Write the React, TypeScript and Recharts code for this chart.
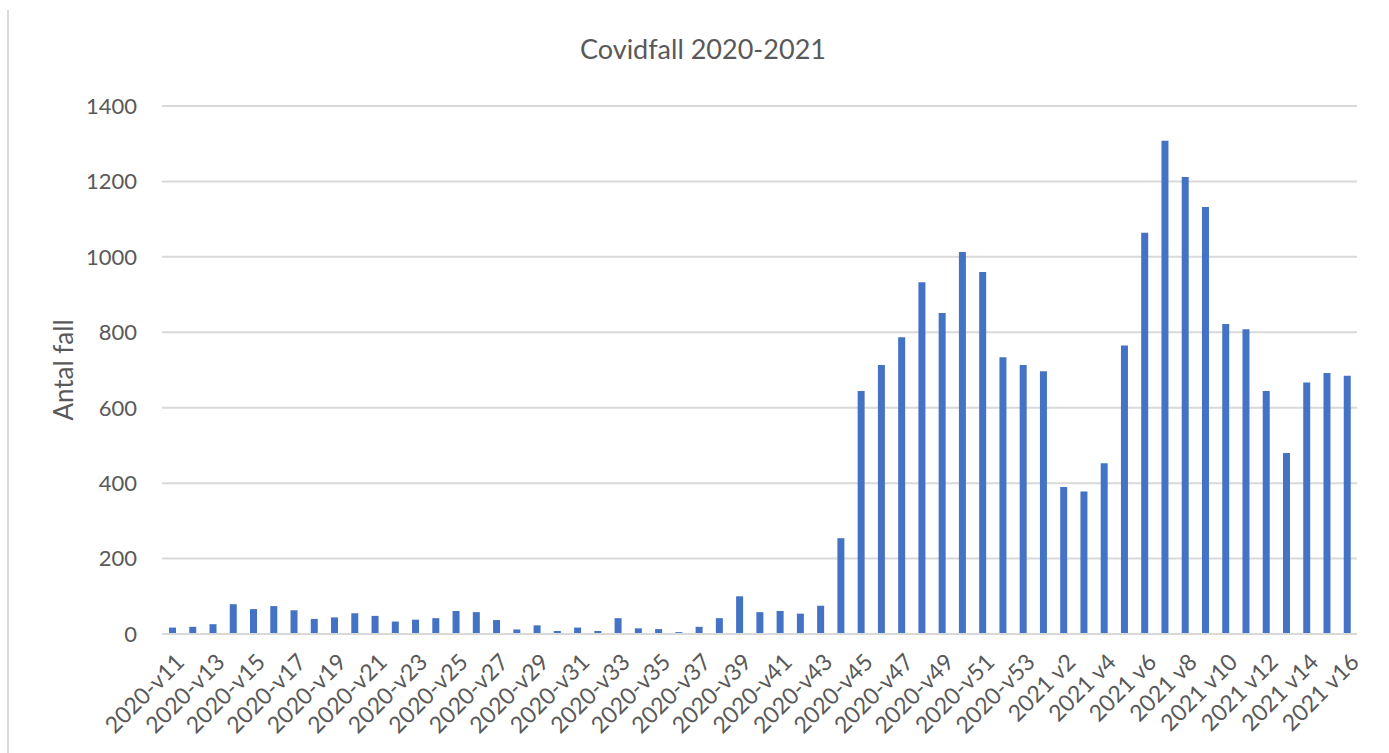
import React from 'react';
import { BarChart, Bar, XAxis, YAxis, CartesianGrid, Label } from 'recharts';

const weeks2020 = Array.from({ length: 43 }, (_, i) => `2020-v${i + 11}`);
const weeks2021 = Array.from({ length: 16 }, (_, i) => `2021 v${i + 1}`);
const categories = [...weeks2020, ...weeks2021];

// 2020-v11 .. 2020-v53
const cases2020 = [
  17, 19, 26, 79, 66, 74, 63, 40, 44, 55, 48, 33, 38, 42, 61, 58, 37, 12, 23, 8,
  17, 8, 42, 15, 13, 5, 19, 42, 100, 58, 61, 54, 75, 254, 644, 713, 787, 933, 851,
  1013, 960, 734, 713,
];
// 2021 v1 .. 2021 v16
const cases2021 = [697, 390, 378, 453, 765, 1064, 1308, 1212, 1132, 822, 808, 644, 480, 667, 692, 685];

const yTicks = [0, 200, 400, 600, 800, 1000, 1200, 1400];

const data = categories.map((week, i) => ({
  week,
  fall: [...cases2020, ...cases2021][i],
}));

const FONT = 'Lato, "Open Sans", sans-serif';
const TEXT = '#595959';

const XTick = (props: any) => {
  const { x, y, payload } = props;
  return (
    <g transform={`translate(${x + 8},${y + 16})`}>
      <text
        textAnchor="end"
        transform="rotate(-45)"
        fill={TEXT}
        fontSize={23}
        fontFamily={FONT}
        dy={8}
      >
        {payload.value}
      </text>
    </g>
  );
};

export default function App() {
  return (
    <div
      style={{
        position: 'absolute',
        left: 0,
        top: 0,
        width: 1389,
        height: 753,
        background: '#fff',
        fontFamily: FONT,
      }}
    >
      <div
        style={{
          position: 'absolute',
          left: 7,
          top: 10,
          bottom: 0,
          borderLeft: '2px solid #D9D9D9',
        }}
      />
      <div
        style={{
          position: 'absolute',
          left: 0,
          width: 1406,
          top: 32,
          textAlign: 'center',
          fontSize: 27,
          color: TEXT,
        }}
      >
        Covidfall 2020-2021
      </div>
      <BarChart
        width={1389}
        height={753}
        data={data}
        margin={{ top: 106, right: 32, bottom: 0, left: 0 }}
        barSize={7}
      >
        <CartesianGrid vertical={false} stroke="#D9D9D9" strokeWidth={2} />
        <XAxis
          dataKey="week"
          interval={1}
          tickLine={false}
          axisLine={{ stroke: '#D9D9D9', strokeWidth: 2 }}
          tick={<XTick />}
          height={119}
        />
        <YAxis
          width={162}
          domain={[0, 1400]}
          ticks={yTicks}
          tickLine={false}
          axisLine={false}
          tickMargin={19}
          tick={{ fill: TEXT, fontSize: 22, fontFamily: FONT }}
        >
          <Label
            value="Antal fall"
            angle={-90}
            position="insideLeft"
            offset={64}
            style={{ fill: TEXT, fontSize: 26, fontFamily: FONT, textAnchor: 'middle' }}
          />
        </YAxis>
        <Bar dataKey="fall" fill="#4472C4" isAnimationActive={false} />
      </BarChart>
    </div>
  );
}
